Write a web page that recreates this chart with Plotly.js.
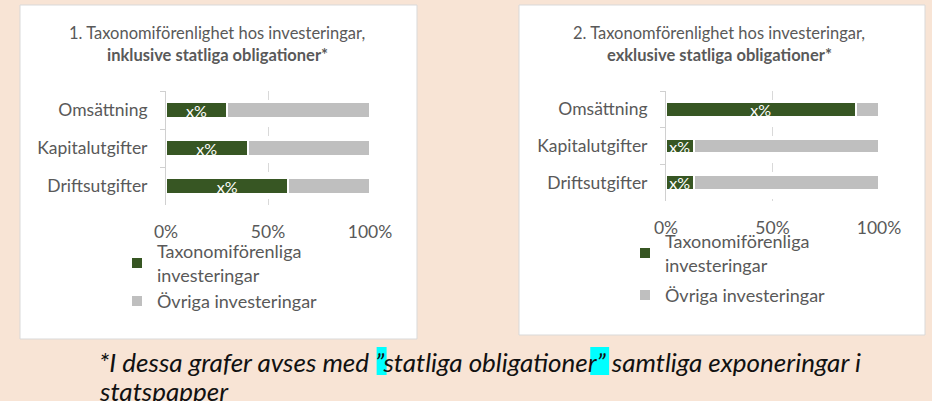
<!DOCTYPE html>
<html><head><meta charset="utf-8">
<script src="https://cdn.plot.ly/plotly-3.0.1.min.js"></script>
<style>html,body{margin:0;padding:0;background:#f8e4d5;} #chart{width:932px;height:401px;}</style>
</head><body><div id="chart"></div>
<script>
// ---- data ----
const categories = ["Omsättning", "Kapitalutgifter", "Driftsutgifter"];
const aligned1 = [0.30, 0.40, 0.60];   // chart 1, Taxonomiförenliga investeringar
const other1   = [0.70, 0.60, 0.40];   // chart 1, Övriga investeringar
const aligned2 = [0.89, 0.13, 0.13];   // chart 2, Taxonomiförenliga investeringar
const other2   = [0.11, 0.87, 0.87];   // chart 2, Övriga investeringar
const barLabels = ["x%", "x%", "x%"];
const seriesNames = ["Taxonomiförenliga<br>investeringar", "Övriga investeringar"];
const xTickVals = [0, 0.5, 1];
const xTickText = ["0%", "50%", "100%"];
const title1a = "1. Taxonomiförenlighet hos investeringar,";
const title1b = "inklusive statliga obligationer*";
const title2a = "2. Taxonomförenlighet hos investeringar,";
const title2b = "exklusive statliga obligationer*";
const notePre = "*I dessa grafer avses med ";
const noteQ1 = "”";
const noteMid = "statliga obligatione";
const noteQ2 = "r”";
const notePost = " samtliga exponeringar i";
const noteLine2 = "statspapper";

// ---- helpers ----
const W = 932, H = 401;
const px = x => x / W;
const py = y => 1 - y / H;
const FONT = "Lato, 'Open Sans', sans-serif";
const GREEN = "#375623", GREY = "#bfbfbf", TXT = "#595959";
const TICK_FS = 17.5, LEG_FS = 18, TITLE_FS = 16.5, NOTE_FS = 26;

function barTrace(x, name, color, xa, ya, leg, grp, withText) {
  const t = {
    type: "bar", orientation: "h", y: categories, x: x, name: name,
    xaxis: xa, yaxis: ya, legend: leg, legendgroup: grp,
    marker: {color: color, line: {color: "#ffffff", width: 2}},
    hoverinfo: "skip", constraintext: "none", cliponaxis: false
  };
  if (withText) {
    t.text = barLabels; t.textposition = "inside"; t.insidetextanchor = "middle";
    t.textfont = {color: "#ffffff", size: 16, family: FONT};
  } else {
    t.textposition = "none";
  }
  return t;
}

const data = [
  barTrace(aligned1, seriesNames[0], GREEN, "x", "y", "legend", "a", true),
  barTrace(other1, seriesNames[1], GREY, "x", "y", "legend", "b", false),
  barTrace(aligned2, seriesNames[0], GREEN, "x2", "y2", "legend2", "c", true),
  barTrace(other2, seriesNames[1], GREY, "x2", "y2", "legend2", "d", false)
];

function xAxis(d0, d1, anchor) {
  return {
    domain: [px(d0), px(d1)], anchor: anchor, range: [0, 1], fixedrange: true,
    tickvals: xTickVals, ticktext: xTickText, showgrid: true, gridcolor: "#d9d9d9",
    griddash: "dash", gridwidth: 1, zeroline: false, showline: false, ticks: "",
    tickfont: {size: TICK_FS, color: TXT, family: FONT}, ticklabelstandoff: 14
  };
}
function yAxis(top, bottom, anchor) {
  return {
    domain: [py(bottom), py(top)], anchor: anchor, type: "category", autorange: "reversed",
    showline: true, linecolor: "#d0d0d0", linewidth: 1, ticks: "outside", tickson: "boundaries",
    ticklen: 5, tickcolor: "#d0d0d0", showgrid: false, zeroline: false, fixedrange: true,
    tickfont: {size: TICK_FS, color: TXT, family: FONT}, ticklabelstandoff: 14
  };
}
function legend(x, y, gap) {
  return {
    x: px(x), y: py(y), xanchor: "left", yanchor: "top", bgcolor: "rgba(0,0,0,0)",
    font: {size: LEG_FS, color: TXT, family: FONT}, traceorder: "grouped", tracegroupgap: gap,
    itemclick: false, itemdoubleclick: false
  };
}

// measure footnote text for the highlight boxes
const ctx = document.createElement("canvas").getContext("2d");
ctx.font = "italic " + NOTE_FS + "px Lato";
const noteX = 97, noteTextX = noteX + 2;
const h1x0 = noteTextX + ctx.measureText(notePre).width + 1;
const h1x1 = h1x0 + ctx.measureText(noteQ1).width + 1;
const h2x0 = noteTextX + ctx.measureText(notePre + noteQ1 + noteMid).width + 2;
const h2x1 = h2x0 + ctx.measureText(noteQ2).width + 1;

const panel = (x0, y0, x1, y1) => ({
  type: "rect", xref: "paper", yref: "paper", layer: "below",
  x0: px(x0), x1: px(x1), y0: py(y1), y1: py(y0),
  fillcolor: "#ffffff", line: {color: "#d9d9d9", width: 1}
});
const hl = (x0, x1) => ({
  type: "rect", xref: "paper", yref: "paper", layer: "below",
  x0: px(x0), x1: px(x1), y0: py(375), y1: py(347),
  fillcolor: "#00ffff", line: {width: 0}
});

const ann = (text, x, y, size, opts) => Object.assign({
  text: text, x: px(x), y: py(y), xref: "paper", yref: "paper", showarrow: false,
  xanchor: "center", yanchor: "middle", font: {size: size, color: TXT, family: FONT}
}, opts || {});

const noteFont = {size: NOTE_FS, color: "#111111", family: FONT, style: "italic"};

const layout = {
  width: W, height: H, autosize: false,
  margin: {l: 0, r: 0, t: 0, b: 0},
  paper_bgcolor: "#f8e4d5", plot_bgcolor: "rgba(0,0,0,0)",
  barmode: "stack", bargap: 0.6,
  font: {family: FONT, color: TXT},
  xaxis: xAxis(166, 370, "y"), yaxis: yAxis(91, 205, "x"),
  xaxis2: xAxis(666, 879, "y2"), yaxis2: yAxis(91, 201, "x2"),
  legend: legend(117, 233, 0),
  legend2: legend(625, 223, 4),
  shapes: [panel(20, 5, 417, 339), panel(519, 5, 925, 335), hl(h1x0, h1x1), hl(h2x0, h2x1)],
  annotations: [
    ann(title1a, 217, 33, TITLE_FS),
    ann("<b>" + title1b + "</b>", 217, 55, TITLE_FS),
    ann(title2a, 719, 33, TITLE_FS),
    ann("<b>" + title2b + "</b>", 719, 55, TITLE_FS),
    ann(notePre + noteQ1 + noteMid + noteQ2 + notePost, noteX, 362, NOTE_FS,
        {xanchor: "left", font: noteFont}),
    ann(noteLine2, noteX, 391, NOTE_FS, {xanchor: "left", font: noteFont})
  ],
  showlegend: true
};

Plotly.newPlot("chart", data, layout, {displayModeBar: false, staticPlot: true});
</script>
</body></html>
